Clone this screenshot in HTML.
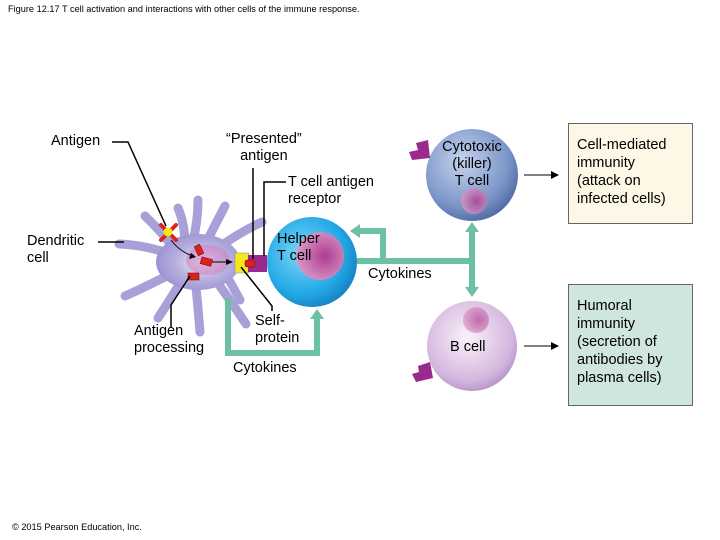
<!DOCTYPE html>
<html><head><meta charset="utf-8"><style>
html,body{margin:0;padding:0;background:#fff;}
body{width:720px;height:540px;overflow:hidden;position:relative;font-family:"Liberation Sans",Arial,sans-serif;}
.t{position:absolute;font-size:14.5px;line-height:17px;color:#000;white-space:nowrap;}
.c{text-align:center;}
</style></head><body>
<svg width="720" height="540" style="position:absolute;left:0;top:0">
<defs>
<radialGradient id="dc" cx="0.55" cy="0.5" r="0.6"><stop offset="0" stop-color="#f4eefa"/><stop offset="0.5" stop-color="#b9b3e0"/><stop offset="1" stop-color="#958cd0"/></radialGradient>
<radialGradient id="ht" cx="0.4" cy="0.4" r="0.65"><stop offset="0" stop-color="#7fd8f8"/><stop offset="0.7" stop-color="#22a8e6"/><stop offset="1" stop-color="#1680c2"/></radialGradient>
<radialGradient id="ct" cx="0.4" cy="0.35" r="0.7"><stop offset="0" stop-color="#c5d4ee"/><stop offset="0.7" stop-color="#7c95c8"/><stop offset="1" stop-color="#4c669f"/></radialGradient>
<radialGradient id="bc" cx="0.45" cy="0.4" r="0.7"><stop offset="0" stop-color="#faf2fb"/><stop offset="0.7" stop-color="#d4b6de"/><stop offset="1" stop-color="#a47fb8"/></radialGradient>
<radialGradient id="nu" cx="0.6" cy="0.5" r="0.6"><stop offset="0" stop-color="#b03c8e"/><stop offset="1" stop-color="#d79ac8"/></radialGradient>
</defs>
<!-- dendritic cell -->
<g stroke="#a8a1d8" stroke-width="9" stroke-linecap="round" fill="none">
<path d="M180,258 Q150,245 119,244"/>
<path d="M175,250 Q160,230 145,216"/>
<path d="M185,245 Q185,225 178,208"/>
<path d="M192,245 Q198,222 198,200"/>
<path d="M205,245 Q215,225 225,206"/>
<path d="M215,250 Q240,232 262,222"/>
<path d="M178,270 Q150,285 125,296"/>
<path d="M185,275 Q170,300 158,318"/>
<path d="M195,278 Q198,305 200,332"/>
<path d="M212,275 Q230,300 246,324"/>
<path d="M222,268 Q232,285 240,300"/>
</g>
<ellipse cx="198" cy="262" rx="42" ry="28" fill="url(#dc)"/>
<ellipse cx="208" cy="260" rx="22" ry="15" fill="#cf7fc0" opacity="0.55"/>
<!-- helper T -->
<circle cx="312" cy="262" r="45" fill="url(#ht)"/>
<circle cx="320" cy="256" r="24" fill="url(#nu)"/>
<!-- cytotoxic -->
<circle cx="472" cy="175" r="46" fill="url(#ct)"/>
<circle cx="474" cy="201" r="13" fill="url(#nu)" opacity="0.8"/>
<!-- B cell -->
<circle cx="472" cy="346" r="45" fill="url(#bc)"/>
<circle cx="476" cy="320" r="13" fill="url(#nu)" opacity="0.7"/>
<!-- receptors -->
<path d="M428,140 L416,143 L418,150 L409,152 L412,160 L430,158 Z" fill="#9a2a8e"/>
<path d="M430,362 L418,366 L419,372 L412,374 L416,382 L433,378 Z" fill="#9a2a8e"/>
<!-- yellow / purple -->
<rect x="235" y="253" width="14" height="20" fill="#f3e81c" stroke="#888" stroke-width="0.5"/>
<rect x="248" y="255" width="19" height="17" fill="#9a2a8e"/>
<rect x="245" y="260" width="10" height="7" rx="2" fill="#d8231f" stroke="#700" stroke-width="0.5"/>
<!-- antigen X -->
<g stroke="#d8231f" stroke-width="4" stroke-linecap="round"><line x1="161" y1="225" x2="176" y2="240"/><line x1="176" y1="225" x2="161" y2="240"/></g>
<circle cx="168" cy="232" r="4.5" fill="#f3e81c"/>
<g fill="#d8231f" stroke="#700" stroke-width="0.5">
<rect x="196" y="245" width="6" height="10" transform="rotate(-25 199 250)"/>
<rect x="201" y="258" width="11" height="7" transform="rotate(15 206 261)"/>
<rect x="188" y="273" width="11" height="7"/>
</g>
<!-- small arrows -->
<g stroke="#000" stroke-width="1" fill="none">
<path d="M171,240 Q180,252 193,256"/><line x1="212" y1="262" x2="230" y2="262"/>
<line x1="524" y1="175" x2="555" y2="175"/><line x1="524" y1="346" x2="555" y2="346"/>
</g>
<g fill="#000"><path d="M196,257 L189,259 L191,253 Z"/><path d="M233,262 L226,259 L226,265 Z"/><path d="M559,175 L551,171 L551,179 Z"/><path d="M559,346 L551,342 L551,350 Z"/></g>
<!-- leader lines -->
<g stroke="#000" stroke-width="1.5" fill="none">
<polyline points="112,142 128,142 166,226"/>
<line x1="253" y1="168" x2="253" y2="259"/>
<polyline points="286,182 264,182 264,256"/>
<line x1="98" y1="242" x2="124" y2="242"/>
<polyline points="171,328 171,305 190,276"/>
<polyline points="272,311 272,306 241,267"/>
</g>
<!-- green connectors -->
<g stroke="#6cc0a4" stroke-width="6" fill="none">
<polyline points="357,261 472,261"/>
<polyline points="383,261 383,231 358,231"/>
<line x1="472" y1="230" x2="472" y2="290"/>
<polyline points="228,298 228,353 317,353 317,316"/>
</g>
<g fill="#6cc0a4">
<path d="M350,231 L360,224 L360,238 Z"/>
<path d="M472,222 L465,232 L479,232 Z"/>
<path d="M472,297 L465,287 L479,287 Z"/>
<path d="M317,309 L310,319 L324,319 Z"/>
</g>
<!-- boxes -->
<rect x="568.5" y="123.5" width="124" height="100" fill="#fdf8e6" stroke="#666" stroke-width="1"/>
<rect x="568.5" y="284.5" width="124" height="121" fill="#cfe5df" stroke="#666" stroke-width="1"/>
</svg>
<div class="t" style="left:8px;top:4px;font-size:9.2px;line-height:10px">Figure 12.17 T cell activation and interactions with other cells of the immune response.</div>
<div class="t" style="left:12px;top:522px;font-size:9.2px;line-height:10px">© 2015 Pearson Education, Inc.</div>
<div class="t" style="left:51px;top:133px">Antigen</div>
<div class="t c" style="left:226px;top:131px">“Presented”<br>antigen</div>
<div class="t" style="left:288px;top:174px">T cell antigen<br>receptor</div>
<div class="t" style="left:27px;top:233px">Dendritic<br>cell</div>
<div class="t" style="left:277px;top:231px">Helper<br>T cell</div>
<div class="t" style="left:368px;top:266px">Cytokines</div>
<div class="t" style="left:134px;top:323px">Antigen<br>processing</div>
<div class="t" style="left:255px;top:313px">Self-<br>protein</div>
<div class="t" style="left:233px;top:360px">Cytokines</div>
<div class="t c" style="left:432px;top:139px;width:80px">Cytotoxic<br>(killer)<br>T cell</div>
<div class="t" style="left:450px;top:339px">B cell</div>
<div class="t" style="left:577px;top:136px;line-height:18px">Cell-mediated<br>immunity<br>(attack on<br>infected cells)</div>
<div class="t" style="left:577px;top:297px;line-height:18px">Humoral<br>immunity<br>(secretion of<br>antibodies by<br>plasma cells)</div>
</body></html>
